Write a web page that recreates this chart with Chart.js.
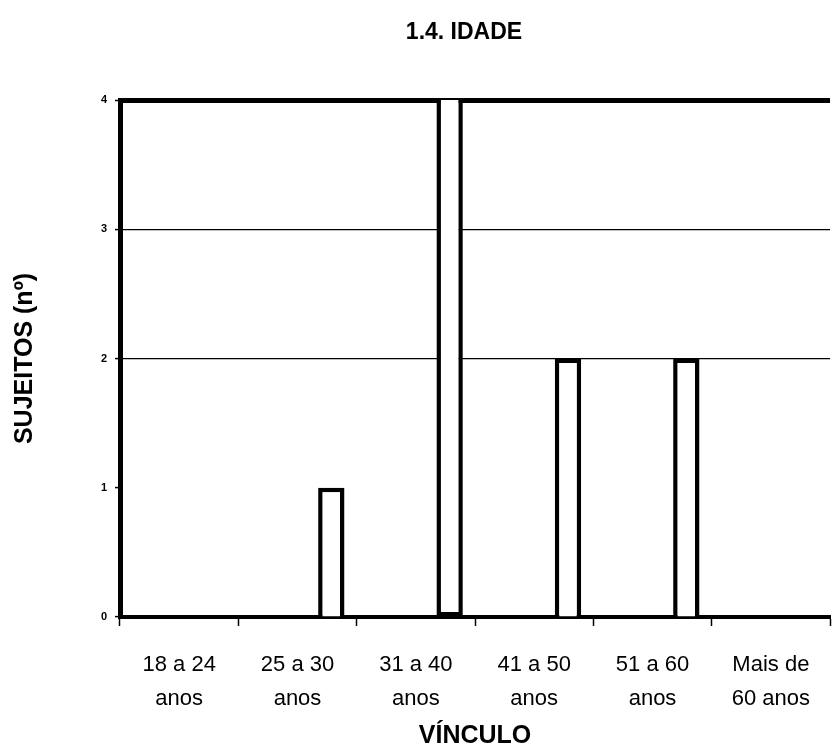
<!DOCTYPE html>
<html>
<head>
<meta charset="utf-8">
<script src="https://cdn.jsdelivr.net/npm/chart.js@4.4.1/dist/chart.umd.min.js"></script>
<style>
  html, body { margin: 0; padding: 0; background: #fff; overflow: hidden; }
  .container { width: 832px; height: 751px; }
</style>
</head>
<body>
<div class="container"><canvas id="barChart"></canvas></div>
<script>
const chart_title = '1.4. IDADE';
const categories = [
  ['18 a 24', 'anos'],
  ['25 a 30', 'anos'],
  ['31 a 40', 'anos'],
  ['41 a 50', 'anos'],
  ['51 a 60', 'anos'],
  ['Mais de', '60 anos']
];
const sujeitos = [0, 1, 4, 2, 2, 0];
// empty series, only keep the bar in the right-hand slot like the original
const empty_series = [null, null, null, null, null, null];
const y_ticks = [0, 1, 2, 3, 4];
const y_max = 4;

const FONT = '"Liberation Sans", Arial, sans-serif';

// title drawn over the middle of the plot, not the whole canvas
const plotTitle = {
  id: 'plotTitle',
  afterDraw(chart) {
    const { ctx, chartArea } = chart;
    ctx.save();
    ctx.font = 'bold 23px ' + FONT;
    ctx.fillStyle = '#000';
    ctx.textAlign = 'center';
    ctx.textBaseline = 'middle';
    ctx.fillText(chart_title, (chartArea.left + chartArea.right) / 2 - 11, 33);
    ctx.restore();
  }
};

const bar_chart_data = {
  labels: categories,
  datasets: [
    { label: '', data: empty_series, categoryPercentage: 0.857 },
    { label: '', data: empty_series, categoryPercentage: 0.857 },
    {
      label: 'Sujeitos',
      data: sujeitos,
      backgroundColor: '#fff',
      borderColor: '#000',
      borderWidth: 4.5,
      borderSkipped: (ctx) => ctx.raw >= y_max ? 'top' : 'bottom',
      categoryPercentage: 0.857,
      barPercentage: 0.78
    }
  ]
};

const bar_chart_config = {
  type: 'bar',
  data: bar_chart_data,
  options: {
    responsive: true,
    maintainAspectRatio: false,
    animation: false,
    layout: { padding: { top: 100, right: -3, bottom: 0, left: 0 } },
    plugins: {
      legend: { display: false },
      tooltip: { enabled: false }
    },
    scales: {
      x: {
        grid: {
          drawOnChartArea: false,
          tickLength: 9,
          tickColor: '#000',
          tickWidth: 1.5
        },
        border: { color: '#000', width: 4 },
        ticks: {
          color: '#000',
          font: { family: FONT, size: 22, lineHeight: 1.55 },
          padding: 22,
          maxRotation: 0,
          autoSkip: false
        },
        title: {
          display: true,
          text: 'VÍNCULO',
          color: '#000',
          font: { family: FONT, size: 25, weight: 'bold', lineHeight: 1.2 },
          padding: { top: 4, bottom: 0 }
        },
        afterFit: (scale) => { scale.height = 134; }
      },
      y: {
        min: 0,
        max: y_max,
        afterBuildTicks: (scale) => { scale.ticks = y_ticks.map(v => ({ value: v })); },
        grid: {
          color: (ctx) => (ctx.tick && ctx.tick.value >= 2) ? '#000' : 'rgba(0,0,0,0)',
          lineWidth: (ctx) => (ctx.tick && ctx.tick.value === y_max) ? 5 : 1.2,
          tickColor: '#000',
          tickLength: 5,
          tickWidth: 1.5
        },
        border: { color: '#000', width: 5 },
        ticks: {
          color: '#000',
          font: { family: FONT, size: 11, weight: 'bold' },
          padding: 8
        },
        title: {
          display: true,
          text: 'SUJEITOS (nº)',
          color: '#000',
          font: { family: FONT, size: 25, weight: 'bold', lineHeight: 1.2 },
          padding: { top: 10, bottom: 0 }
        },
        afterFit: (scale) => { scale.width = 120; }
      }
    }
  },
  plugins: [plotTitle]
};

const barChart = new Chart(
  document.getElementById('barChart'),
  bar_chart_config
);
</script>
</body>
</html>
